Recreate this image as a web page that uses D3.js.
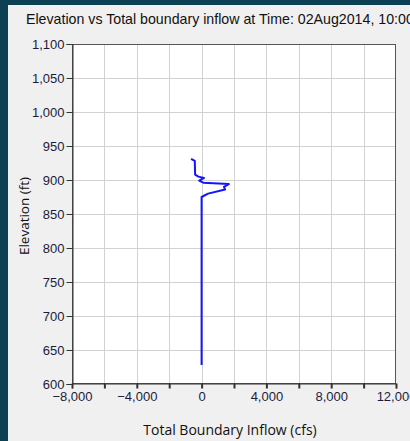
<!DOCTYPE html>
<html>
<head>
<meta charset="utf-8">
<script src="https://cdn.jsdelivr.net/npm/d3@7"></script>
<style>
  html, body { margin: 0; padding: 0; background: #0c4053; }
  svg { display: block; }
</style>
</head>
<body>
<script>
// Profile of total boundary inflow with elevation
const flowValues = [-650, -420, -400, -200, 150, -150, 100, 1680, 1380, 1450, 400, 0, 0];
const elevValues = [931, 928, 908, 905, 903, 899, 896, 894, 890, 886, 880, 875, 628];

const xTickValues = [-8000, -6000, -4000, -2000, 0, 2000, 4000, 6000, 8000, 10000, 12000];
const xLabelValues = [-8000, -4000, 0, 4000, 8000, 12000];
const yTickValues = [600, 650, 700, 750, 800, 850, 900, 950, 1000, 1050, 1100];

const titleText = "Elevation vs Total boundary inflow at Time: 02Aug2014, 10:00";
const xTitle = "Total Boundary Inflow (cfs)";
const yTitle = "Elevation (ft)";

const W = 410, H = 441;
const plot = { left: 72, right: 396, top: 44, bottom: 384 };

const svg = d3.select("body").append("svg").attr("width", W).attr("height", H);

// panel behind the chart with dark frame along top and left
svg.append("rect").attr("x", 0).attr("y", 0).attr("width", W).attr("height", H).attr("fill", "#0c4053");
svg.append("rect").attr("x", 8).attr("y", 5).attr("width", W - 8).attr("height", H - 5).attr("fill", "#f0f0f0");

const x = d3.scaleLinear().domain([-8000, 12000]).range([plot.left, plot.right]);
const y = d3.scaleLinear().domain([600, 1100]).range([plot.bottom, plot.top]);

// plot background
svg.append("rect")
  .attr("x", plot.left).attr("y", plot.top)
  .attr("width", plot.right - plot.left).attr("height", plot.bottom - plot.top)
  .attr("fill", "#ffffff");

// grid
const grid = svg.append("g").attr("stroke", "#d2d2d2").attr("stroke-width", 1);
grid.selectAll("line.v").data(xTickValues.slice(1, -1)).join("line")
  .attr("x1", d => Math.round(x(d)) + 0.5).attr("x2", d => Math.round(x(d)) + 0.5)
  .attr("y1", plot.top).attr("y2", plot.bottom);
grid.selectAll("line.h").data(yTickValues.slice(1, -1)).join("line")
  .attr("y1", d => Math.round(y(d)) + 0.5).attr("y2", d => Math.round(y(d)) + 0.5)
  .attr("x1", plot.left).attr("x2", plot.right);

// data line
const line = d3.line()
  .x((d, i) => x(flowValues[i]))
  .y((d, i) => y(elevValues[i]));
svg.append("path")
  .datum(flowValues)
  .attr("d", line)
  .attr("fill", "none")
  .attr("stroke", "#1414ff")
  .attr("stroke-width", 2)
  .attr("stroke-linejoin", "round");

// frame
svg.append("rect")
  .attr("x", plot.left + 0.5).attr("y", plot.top + 0.5)
  .attr("width", plot.right - plot.left - 1).attr("height", plot.bottom - plot.top - 1)
  .attr("fill", "none").attr("stroke", "#555555").attr("stroke-width", 1);

const fontTicks = "Liberation Sans, Arial, sans-serif";

// x axis
const xAxis = d3.axisBottom(x)
  .tickValues(xTickValues)
  .tickSize(5)
  .tickFormat(d => xLabelValues.includes(d) ? d3.format(",")(d) : "");
const gx = svg.append("g").attr("transform", `translate(0,${plot.bottom - 0.5})`).call(xAxis);
gx.select(".domain").attr("stroke", "#333");
gx.selectAll(".tick line").attr("stroke", "#333").attr("stroke-width", 2);
gx.selectAll(".tick text")
  .attr("font-family", fontTicks).attr("font-size", 13)
  .attr("fill", "#1c1c3a").attr("dy", "0.9em").attr("y", 6);

// y axis
const yAxis = d3.axisLeft(y)
  .tickValues(yTickValues)
  .tickSize(6)
  .tickFormat(d3.format(","));
const gy = svg.append("g").attr("transform", `translate(${plot.left + 0.5},0)`).call(yAxis);
gy.select(".domain").attr("stroke", "#333");
gy.selectAll(".tick line").attr("stroke", "#333");
gy.selectAll(".tick text")
  .attr("font-family", fontTicks).attr("font-size", 13)
  .attr("fill", "#1c1c3a").attr("x", -8);

// title
svg.append("text")
  .attr("x", 26).attr("y", 24)
  .attr("font-family", fontTicks).attr("font-size", 14.2)
  .attr("fill", "#111")
  .text(titleText);

// axis titles
svg.append("text")
  .attr("x", 230).attr("y", 435)
  .attr("text-anchor", "middle")
  .attr("font-family", "Open Sans, Noto Sans, sans-serif").attr("font-size", 14)
  .attr("fill", "#111")
  .text(xTitle);

svg.append("text")
  .attr("transform", "translate(29,216) rotate(-90)")
  .attr("text-anchor", "middle")
  .attr("font-family", "Open Sans, Noto Sans, sans-serif").attr("font-size", 13.5)
  .attr("fill", "#111")
  .text(yTitle);
</script>
</body>
</html>
